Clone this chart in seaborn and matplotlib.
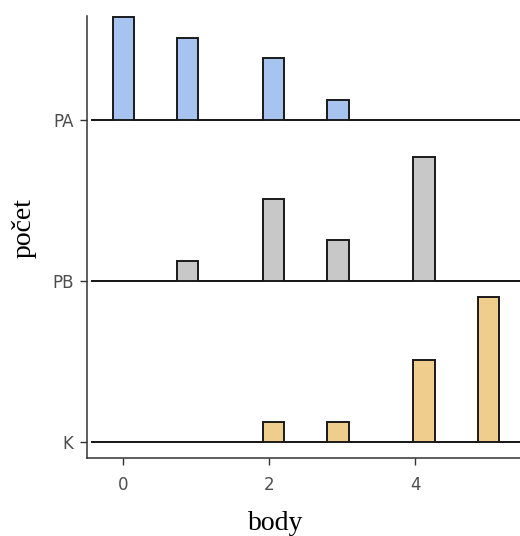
import numpy as np
import pandas as pd
import matplotlib
matplotlib.use("Agg")
import matplotlib.pyplot as plt
import seaborn as sns
from matplotlib.transforms import Affine2D

# ---- data ----
scores = [0, 1, 2, 3, 4, 5]
groups = ["PA", "PB", "K"]
counts_PA = [5, 4, 3, 1, 0, 0]
counts_PB = [0, 1, 4, 2, 6, 0]
counts_K = [0, 0, 1, 1, 4, 7]
fill_colors = ["#a6c4ef", "#c8c8c8", "#efcd8c"]
xticks = [0, 2, 4]

counts = {"PA": counts_PA, "PB": counts_PB, "K": counts_K}
rows = {"PA": 2, "PB": 1, "K": 0}

# ridgeline scaling (ggridges-like, scale 0.9 of the row spacing)
max_count = max(max(c) for c in counts.values())
unit = 0.9 / max_count

frames = []
for g in groups:
    vals = np.repeat(scores, counts[g])
    frames.append(pd.DataFrame({"body": vals, "skupina": g, "w": unit}))
df = pd.concat(frames, ignore_index=True)

n_bins = 18
bw = (max(scores) - min(scores)) / (n_bins - 1)
edges = [float(e) for e in min(scores) + (np.arange(n_bins + 3) - 1.5) * bw]  # padded bins

sns.set_theme(style="ticks")
plt.rcParams["font.family"] = ["DejaVu Sans"]

fig = plt.figure(figsize=(5.2, 5.36), dpi=100)
L, R, B, T = 87.3, 520.0, 458.0, 16.0
ax = fig.add_axes([L / 520, 1 - B / 536, (R - L) / 520, (B - T) / 536])

line_col = "#1a1a1a"
for g, fc in zip(groups, fill_colors):
    sub = df[df["skupina"] == g]
    n_before = len(ax.collections)
    sns.histplot(data=sub, x="body", weights="w", bins=edges, element="step",
                 fill=True, ax=ax, color=fc, alpha=1)
    for coll in ax.collections[n_before:]:
        coll.set_transform(Affine2D().translate(0, rows[g]) + ax.transData)
        coll.set_facecolor(fc)
        coll.set_edgecolor(line_col)
        coll.set_linewidth(1.4)
        coll.set_joinstyle("miter")

ax.set_xlim(-0.493, 5.434)
ax.set_ylim(-0.0975, 2.648)
ax.set_xticks(xticks)
ax.set_xticklabels([str(t) for t in xticks])
ax.set_yticks([rows[g] for g in groups])
ax.set_yticklabels(groups)

for s in ["top", "right"]:
    ax.spines[s].set_visible(False)
for s in ["left", "bottom"]:
    ax.spines[s].set_color("#333333")
    ax.spines[s].set_linewidth(1.1)

ax.tick_params(axis="both", length=5, width=1.0, color="#333333",
               labelcolor="#4d4d4d", labelsize=12)
ax.tick_params(axis="x", pad=8)
ax.tick_params(axis="y", pad=5)

ax.set_xlabel("body", family="Liberation Serif", fontsize=20, color="black")
ax.set_ylabel("počet", family="Liberation Serif", fontsize=20, color="black")
ax.xaxis.set_label_coords((276 - L) / (R - L), -(511 - B) / (B - T))
ax.yaxis.set_label_coords((37 - L) / (R - L), (B - 228) / (B - T))

fig.savefig("out.png", dpi=100)
